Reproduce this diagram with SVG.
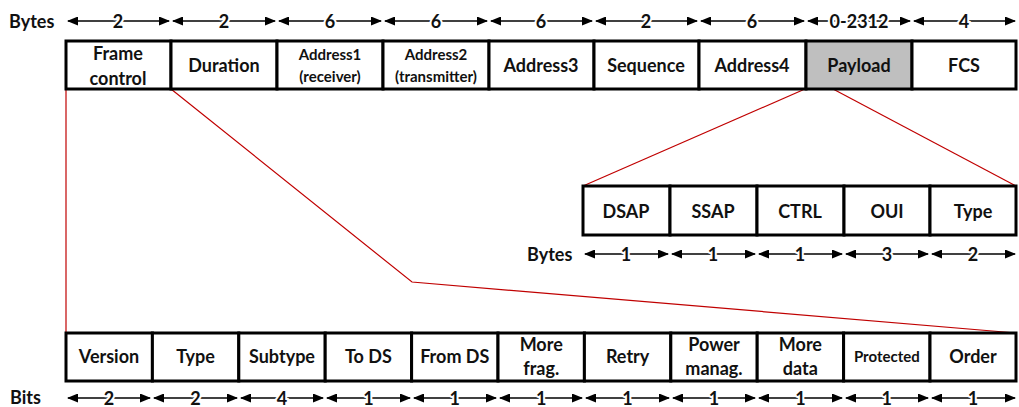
<svg xmlns="http://www.w3.org/2000/svg" width="1019" height="407" viewBox="0 0 1019 407">
<style>
.cell{fill:#fff;stroke:#000;stroke-width:3}
.t{font-family:Lato,"Open Sans","Liberation Sans",sans-serif;font-weight:bold;font-size:18px;fill:#111;text-anchor:middle;dominant-baseline:central}
.s{font-size:15px}
.lbl{font-family:Lato,"Open Sans","Liberation Sans",sans-serif;font-weight:bold;font-size:18px;fill:#111;dominant-baseline:central}
.dim{stroke:#000;stroke-width:1.5;marker-start:url(#ah);marker-end:url(#ah)}
.num{font-family:Lato,"Open Sans","Liberation Sans",sans-serif;font-weight:bold;font-size:18px;fill:#111;text-anchor:middle;dominant-baseline:central;paint-order:stroke;stroke:#fff;stroke-width:4}
.red{stroke:#c00000;stroke-width:1.2;fill:none}
</style>
<defs>
<marker id="ah" markerUnits="userSpaceOnUse" markerWidth="11" markerHeight="9" refX="10" refY="4.5" orient="auto-start-reverse"><path d="M0,0 L11,4.5 L0,9 Z" fill="#000"/></marker>
</defs>
<rect width="1019" height="407" fill="#fff"/>
<g id="connectors">
<line class="red" x1="66" y1="89" x2="66" y2="333"/>
<polyline class="red" points="171,89 412,282 1016,333"/>
<line class="red" x1="805" y1="89" x2="583" y2="186"/>
<line class="red" x1="833" y1="89" x2="1016" y2="186"/>
</g>
<g id="top-frame">
<rect class="cell" x="66" y="41" width="105" height="48"/>
<rect class="cell" x="171" y="41" width="106" height="48"/>
<rect class="cell" x="277" y="41" width="106" height="48"/>
<rect class="cell" x="383" y="41" width="106" height="48"/>
<rect class="cell" x="489" y="41" width="105" height="48"/>
<rect class="cell" x="594" y="41" width="105" height="48"/>
<rect class="cell" x="699" y="41" width="107" height="48"/>
<rect class="cell" x="806" y="41" width="106" height="48" style="fill:#bfbfbf"/>
<rect class="cell" x="912" y="41" width="104" height="48"/>
<text class="t" x="118" y="53">Frame</text>
<text class="t" x="118" y="78">control</text>
<text class="t" x="224" y="65">Duration</text>
<text class="t s" x="330" y="54">Address1</text>
<text class="t s" x="330" y="76">(receiver)</text>
<text class="t s" x="436" y="54">Address2</text>
<text class="t s" x="436" y="76">(transmitter)</text>
<text class="t" x="541" y="65">Address3</text>
<text class="t" x="646" y="65">Sequence</text>
<text class="t" x="752" y="65">Address4</text>
<text class="t" x="859" y="65">Payload</text>
<text class="t" x="964" y="65">FCS</text>
</g>
<g id="top-dims">
<text class="lbl" x="9" y="21">Bytes</text>
<line class="dim" x1="68" y1="21" x2="169" y2="21"/><text class="num" x="118" y="21">2</text>
<line class="dim" x1="173" y1="21" x2="275" y2="21"/><text class="num" x="224" y="21">2</text>
<line class="dim" x1="279" y1="21" x2="381" y2="21"/><text class="num" x="330" y="21">6</text>
<line class="dim" x1="385" y1="21" x2="487" y2="21"/><text class="num" x="436" y="21">6</text>
<line class="dim" x1="491" y1="21" x2="592" y2="21"/><text class="num" x="541" y="21">6</text>
<line class="dim" x1="596" y1="21" x2="697" y2="21"/><text class="num" x="646" y="21">2</text>
<line class="dim" x1="701" y1="21" x2="804" y2="21"/><text class="num" x="752" y="21">6</text>
<line class="dim" x1="808" y1="21" x2="910" y2="21"/><text class="num" x="859" y="21">0-2312</text>
<line class="dim" x1="914" y1="21" x2="1015" y2="21"/><text class="num" x="964" y="21">4</text>
</g>
<g id="llc-header">
<rect class="cell" x="583" y="186" width="87" height="49"/>
<rect class="cell" x="670" y="186" width="87" height="49"/>
<rect class="cell" x="757" y="186" width="87" height="49"/>
<rect class="cell" x="844" y="186" width="86" height="49"/>
<rect class="cell" x="930" y="186" width="86" height="49"/>
<text class="t" x="626" y="211">DSAP</text>
<text class="t" x="713" y="211">SSAP</text>
<text class="t" x="800" y="211">CTRL</text>
<text class="t" x="887" y="211">OUI</text>
<text class="t" x="973" y="211">Type</text>
</g>
<g id="llc-dims">
<text class="lbl" x="527" y="254">Bytes</text>
<line class="dim" x1="585" y1="254" x2="668" y2="254"/><text class="num" x="626" y="254">1</text>
<line class="dim" x1="672" y1="254" x2="755" y2="254"/><text class="num" x="713" y="254">1</text>
<line class="dim" x1="759" y1="254" x2="842" y2="254"/><text class="num" x="800" y="254">1</text>
<line class="dim" x1="846" y1="254" x2="928" y2="254"/><text class="num" x="887" y="254">3</text>
<line class="dim" x1="932" y1="254" x2="1015" y2="254"/><text class="num" x="973" y="254">2</text>
</g>
<g id="frame-control">
<rect class="cell" x="66" y="333" width="86.4" height="48"/>
<rect class="cell" x="152.4" y="333" width="86.4" height="48"/>
<rect class="cell" x="238.8" y="333" width="86.4" height="48"/>
<rect class="cell" x="325.2" y="333" width="86.4" height="48"/>
<rect class="cell" x="411.6" y="333" width="86.4" height="48"/>
<rect class="cell" x="498" y="333" width="86.4" height="48"/>
<rect class="cell" x="584.4" y="333" width="86.4" height="48"/>
<rect class="cell" x="670.8" y="333" width="86.4" height="48"/>
<rect class="cell" x="757.2" y="333" width="86.4" height="48"/>
<rect class="cell" x="843.6" y="333" width="86.4" height="48"/>
<rect class="cell" x="930" y="333" width="86" height="48"/>
<text class="t" x="109" y="356">Version</text>
<text class="t" x="195.6" y="356">Type</text>
<text class="t" x="282" y="356">Subtype</text>
<text class="t" x="368.4" y="356">To DS</text>
<text class="t" x="454.8" y="356">From DS</text>
<text class="t" x="541.2" y="344">More</text>
<text class="t" x="541.2" y="368">frag.</text>
<text class="t" x="627.6" y="356">Retry</text>
<text class="t" x="714" y="344">Power</text>
<text class="t" x="714" y="368">manag.</text>
<text class="t" x="800.4" y="344">More</text>
<text class="t" x="800.4" y="368">data</text>
<text class="t s" x="886.8" y="356">Protected</text>
<text class="t" x="973" y="356">Order</text>
</g>
<g id="bit-dims">
<text class="lbl" x="10" y="397">Bits</text>
<line class="dim" x1="68" y1="398" x2="150" y2="398"/><text class="num" x="109" y="398">2</text>
<line class="dim" x1="154" y1="398" x2="237" y2="398"/><text class="num" x="195.6" y="398">2</text>
<line class="dim" x1="241" y1="398" x2="323" y2="398"/><text class="num" x="282" y="398">4</text>
<line class="dim" x1="327" y1="398" x2="410" y2="398"/><text class="num" x="368.4" y="398">1</text>
<line class="dim" x1="414" y1="398" x2="496" y2="398"/><text class="num" x="454.8" y="398">1</text>
<line class="dim" x1="500" y1="398" x2="582" y2="398"/><text class="num" x="541.2" y="398">1</text>
<line class="dim" x1="586" y1="398" x2="669" y2="398"/><text class="num" x="627.6" y="398">1</text>
<line class="dim" x1="673" y1="398" x2="755" y2="398"/><text class="num" x="714" y="398">1</text>
<line class="dim" x1="759" y1="398" x2="842" y2="398"/><text class="num" x="800.4" y="398">1</text>
<line class="dim" x1="846" y1="398" x2="928" y2="398"/><text class="num" x="886.8" y="398">1</text>
<line class="dim" x1="932" y1="398" x2="1015" y2="398"/><text class="num" x="973" y="398">1</text>
</g>
</svg>
